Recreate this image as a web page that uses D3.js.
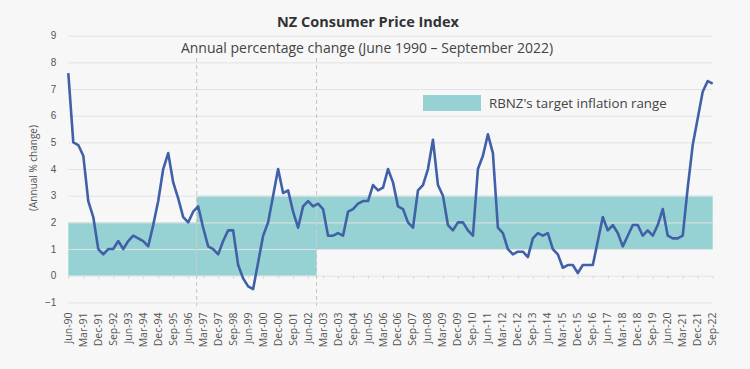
<!DOCTYPE html>
<html>
<head>
<meta charset="utf-8">
<script src="https://cdn.jsdelivr.net/npm/d3@7"></script>
<style>
  html, body { margin: 0; padding: 0; background: #f7f7f7; }
  svg { display: block; font-family: "Open Sans", "Noto Sans", sans-serif; }
</style>
</head>
<body>
<svg id="chart" width="750" height="369"></svg>
<script>
// ---- Data ----
const startYear = 1990, startQuarterMonth = "Jun";
const monthNames = ["Mar", "Jun", "Sep", "Dec"];
const cpiValues = [
  7.6, 5.0, 4.9, 4.5, 2.8, 2.2, 1.0, 0.8, 1.0, 1.0,
  1.3, 1.0, 1.3, 1.5, 1.4, 1.3, 1.1, 1.9, 2.8, 4.0,
  4.6, 3.5, 2.9, 2.2, 2.0, 2.4, 2.6, 1.8, 1.1, 1.0,
  0.8, 1.3, 1.7, 1.7, 0.4, -0.1, -0.4, -0.5, 0.5, 1.5,
  2.0, 3.0, 4.0, 3.1, 3.2, 2.4, 1.8, 2.6, 2.8, 2.6,
  2.7, 2.5, 1.5, 1.5, 1.6, 1.5, 2.4, 2.5, 2.7, 2.8,
  2.8, 3.4, 3.2, 3.3, 4.0, 3.5, 2.6, 2.5, 2.0, 1.8,
  3.2, 3.4, 4.0, 5.1, 3.4, 3.0, 1.9, 1.7, 2.0, 2.0,
  1.7, 1.5, 4.0, 4.5, 5.3, 4.6, 1.8, 1.6, 1.0, 0.8,
  0.9, 0.9, 0.7, 1.4, 1.6, 1.5, 1.6, 1.0, 0.8, 0.3,
  0.4, 0.4, 0.1, 0.4, 0.4, 0.4, 1.3, 2.2, 1.7, 1.9,
  1.6, 1.1, 1.5, 1.9, 1.9, 1.5, 1.7, 1.5, 1.9, 2.5,
  1.5, 1.4, 1.4, 1.5, 3.3, 4.9, 5.9, 6.9, 7.3, 7.2
];
// quarterly categories Jun-90 ... Sep-22
const quarters = [];
{
  let y = startYear, m = monthNames.indexOf(startQuarterMonth);
  for (let i = 0; i < cpiValues.length; i++) {
    quarters.push(monthNames[m] + "-" + String(y % 100).padStart(2, "0"));
    m++; if (m > 3) { m = 0; y++; }
  }
}
const tickLabels = [
  "Jun-90","Mar-91","Dec-91","Sep-92","Jun-93","Mar-94","Dec-94","Sep-95","Jun-96","Mar-97",
  "Dec-97","Sep-98","Jun-99","Mar-00","Dec-00","Sep-01","Jun-02","Mar-03","Dec-03","Sep-04",
  "Jun-05","Mar-06","Dec-06","Sep-07","Jun-08","Mar-09","Dec-09","Sep-10","Jun-11","Mar-12",
  "Dec-12","Sep-13","Jun-14","Mar-15","Dec-15","Sep-16","Jun-17","Mar-18","Dec-18","Sep-19",
  "Jun-20","Mar-21","Dec-21","Sep-22"
];
const yTicks = [-1, 0, 1, 2, 3, 4, 5, 6, 7, 8, 9];
// target bands: from / to quarter, low / high %
const bandFrom = ["Jun-90", "Dec-96", "Dec-02"];
const bandTo   = ["Dec-96", "Dec-02", "Sep-22"];
const bandLow  = [0, 0, 1];
const bandHigh = [2, 3, 3];
const regimeChanges = ["Dec-96", "Dec-02"];

const titleText = "NZ Consumer Price Index";
const subtitleText = "Annual percentage change (June 1990 \u2013 September 2022)";
const yAxisTitle = "(Annual % change)";
const legendText = "RBNZ's target inflation range";

// ---- Layout ----
const colors = { band: "#96d2d3", line: "#4060a8", grid: "#e3e3e3", text: "#555", dash: "#c4c4c4" };
const svg = d3.select("#chart");
const x = d3.scalePoint().domain(quarters).range([68.3, 712.7]);
const step = x.step();
const y = d3.scaleLinear().domain([-1, 9]).range([302.4, 35.7]);
const boundaryShift = -0.3 * step;
const bx = (q) => {
  if (q === quarters[0]) return x(q);
  if (q === quarters[quarters.length - 1]) return x(q);
  return x(q) + boundaryShift;
};

// bands
const bands = bandFrom.map((f, i) => ({ from: f, to: bandTo[i], low: bandLow[i], high: bandHigh[i] }));
svg.append("g").selectAll("rect").data(bands).join("rect")
  .attr("x", d => bx(d.from))
  .attr("width", d => bx(d.to) - bx(d.from))
  .attr("y", d => y(d.high))
  .attr("height", d => y(d.low) - y(d.high))
  .attr("fill", colors.band);

// grid
const yAxis = d3.axisLeft(y).tickValues(yTicks).tickSize(-(712.7 - 68.3)).tickPadding(10).tickFormat(d3.format("d"));
const gy = svg.append("g").attr("transform", "translate(68.3,0)").call(yAxis);
gy.select(".domain").remove();
gy.selectAll(".tick line").attr("stroke", colors.grid).attr("stroke-width", 1);
gy.selectAll(".tick text").attr("fill", colors.text).attr("font-size", 10).attr("x", -12);

// x axis ticks and labels
const xAxis = d3.axisBottom(x).tickValues(tickLabels).tickSize(3).tickPadding(6);
const gx = svg.append("g").attr("transform", `translate(0,${y(0)})`).call(xAxis);
gx.select(".domain").remove();
gx.selectAll(".tick line").attr("stroke", "#d8d8d8");
gx.selectAll(".tick text").remove();
const gl = svg.append("g").attr("transform", `translate(0,${y(-1) + 10})`);
gl.selectAll("text").data(tickLabels).join("text")
  .attr("transform", d => `translate(${x(d) + 3.5},0) rotate(-90)`)
  .attr("text-anchor", "end")
  .attr("font-size", 10.5)
  .attr("fill", colors.text)
  .text(d => d);

// dashed regime lines
svg.append("g").selectAll("line").data(regimeChanges).join("line")
  .attr("x1", d => bx(d)).attr("x2", d => bx(d))
  .attr("y1", 58).attr("y2", 306)
  .attr("stroke", colors.dash).attr("stroke-width", 1).attr("stroke-dasharray", "4,3");

// CPI line
const line = d3.line().x((d, i) => x(quarters[i])).y(d => y(d));
svg.append("path").datum(cpiValues)
  .attr("d", line)
  .attr("fill", "none")
  .attr("stroke", colors.line)
  .attr("stroke-width", 2.6)
  .attr("stroke-linejoin", "round");

// titles
svg.append("text").attr("x", 368).attr("y", 27).attr("text-anchor", "middle")
  .attr("font-size", 14.5).attr("font-weight", "bold").attr("fill", "#333").text(titleText);
svg.append("text").attr("x", 367).attr("y", 53).attr("text-anchor", "middle")
  .attr("font-size", 14).attr("fill", "#444").text(subtitleText);
svg.append("text").attr("transform", "translate(37,168) rotate(-90)").attr("text-anchor", "middle")
  .attr("font-size", 10).attr("fill", colors.text).text(yAxisTitle);

// legend
const lg = svg.append("g");
lg.append("rect").attr("x", 423).attr("y", 95).attr("width", 58).attr("height", 16).attr("fill", colors.band);
lg.append("text").attr("x", 489).attr("y", 108).attr("font-size", 13.3).attr("fill", "#444").text(legendText);
</script>
</body>
</html>
